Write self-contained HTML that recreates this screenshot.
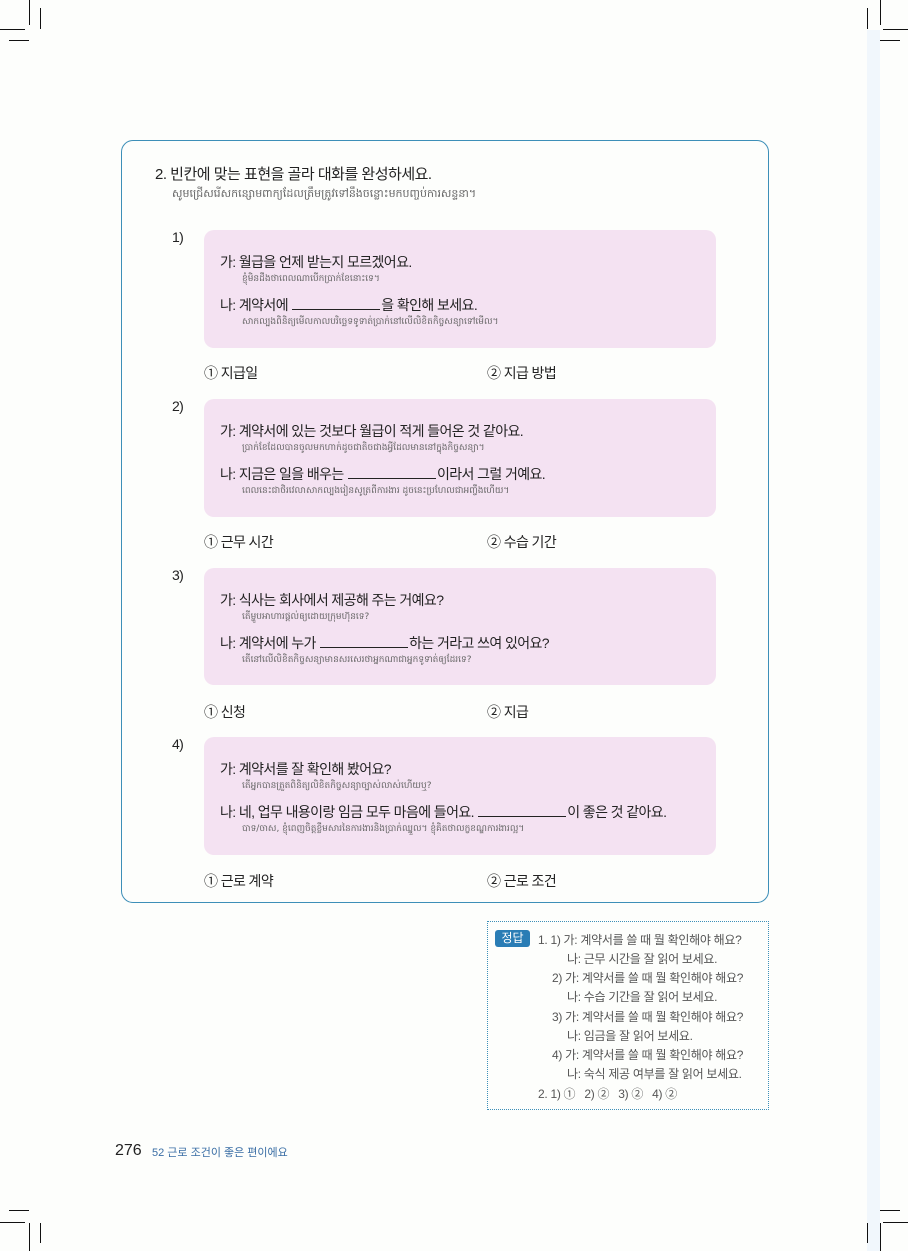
<!DOCTYPE html>
<html><head><meta charset="utf-8"><style>
*{margin:0;padding:0;box-sizing:border-box}
body{width:908px;height:1251px;background:#fdfefc;position:relative;overflow:hidden;font-family:"Liberation Sans","Noto Sans CJK KR",sans-serif;color:#222}
.a{position:absolute}
.l{position:absolute;background:#111}
.box{position:absolute;left:121px;top:140px;width:648px;height:763px;border:1.3px solid #3d8fb8;border-radius:12px}
.pk{position:absolute;left:204px;width:512px;background:#f4e2f2;border-radius:10px}
.k{font-size:14px;color:#222;white-space:nowrap;letter-spacing:-0.6px}
.km{font-size:9px;color:#666;white-space:nowrap;font-family:"DejaVu Sans",sans-serif}
.bl{display:inline-block;width:88px;border-bottom:1px solid #222;height:12px;vertical-align:baseline;margin:0 1px}
.ans{position:absolute;left:487px;top:921px;width:282px;height:189px;border:1px dotted #3d8fb8}
.ar{font-size:12px;color:#555;white-space:nowrap;position:absolute;letter-spacing:-0.3px}
</style></head><body>
<div class="a" style="left:867px;top:30px;width:13px;height:1221px;background:#f1f7fc"></div>
<div class="l" style="left:29px;top:0;width:1px;height:25px"></div>
<div class="l" style="left:40px;top:8px;width:1px;height:21px"></div>
<div class="l" style="left:0;top:29px;width:25px;height:1px"></div>
<div class="l" style="left:9px;top:40px;width:20px;height:1px"></div>
<div class="l" style="left:880px;top:0;width:1px;height:25px"></div>
<div class="l" style="left:867px;top:8px;width:1px;height:21px"></div>
<div class="l" style="left:883px;top:29px;width:25px;height:1px"></div>
<div class="l" style="left:880px;top:40px;width:20px;height:1px"></div>
<div class="l" style="left:29px;top:1223px;width:1px;height:28px"></div>
<div class="l" style="left:40px;top:1223px;width:1px;height:20px"></div>
<div class="l" style="left:0;top:1222px;width:25px;height:1px"></div>
<div class="l" style="left:9px;top:1210px;width:20px;height:1px"></div>
<div class="l" style="left:880px;top:1223px;width:1px;height:28px"></div>
<div class="l" style="left:867px;top:1223px;width:1px;height:20px"></div>
<div class="l" style="left:883px;top:1222px;width:25px;height:1px"></div>
<div class="l" style="left:880px;top:1210px;width:20px;height:1px"></div>

<div class="box"></div>
<div class="a" style="left:155px;top:163px;font-size:15px;white-space:nowrap;letter-spacing:-0.5px">2. 빈칸에 맞는 표현을 골라 대화를 완성하세요.</div>
<div class="a km" style="left:172px;top:187px;font-size:11px">សូមជ្រើសរើសកន្សោមពាក្យដែលត្រឹមត្រូវទៅនឹងចន្លោះមកបញ្ចប់ការសន្ទនា។</div>

<div class="a k" style="left:172px;top:229px">1)</div>
<div class="pk" style="top:230px;height:118px"></div>
<div class="a k" style="left:220px;top:252px">가: 월급을 언제 받는지 모르겠어요.</div>
<div class="a km" style="left:242px;top:273px">ខ្ញុំមិនដឹងថាពេលណាបើកប្រាក់ខែនោះទេ។</div>
<div class="a k" style="left:220px;top:295px">나: 계약서에 <span class="bl"></span>을 확인해 보세요.</div>
<div class="a km" style="left:242px;top:316px">សាកល្បងពិនិត្យមើលកាលបរិច្ឆេទទូទាត់ប្រាក់នៅលើលិខិតកិច្ចសន្យាទៅមើល។</div>
<div class="a k" style="left:204px;top:363px">① 지급일</div>
<div class="a k" style="left:487px;top:363px">② 지급 방법</div>

<div class="a k" style="left:172px;top:398px">2)</div>
<div class="pk" style="top:399px;height:118px"></div>
<div class="a k" style="left:220px;top:421px">가: 계약서에 있는 것보다 월급이 적게 들어온 것 같아요.</div>
<div class="a km" style="left:242px;top:442px">ប្រាក់ខែដែលបានចូលមកហាក់ដូចជាតិចជាងអ្វីដែលមាននៅក្នុងកិច្ចសន្យា។</div>
<div class="a k" style="left:220px;top:464px">나: 지금은 일을 배우는 <span class="bl"></span>이라서 그럴 거예요.</div>
<div class="a km" style="left:242px;top:485px">ពេលនេះជាថិរវេលាសាកល្បងរៀនសូត្រពីការងារ ដូចនេះប្រហែលជាអញ្ចឹងហើយ។</div>
<div class="a k" style="left:204px;top:532px">① 근무 시간</div>
<div class="a k" style="left:487px;top:532px">② 수습 기간</div>

<div class="a k" style="left:172px;top:567px">3)</div>
<div class="pk" style="top:568px;height:117px"></div>
<div class="a k" style="left:220px;top:590px">가: 식사는 회사에서 제공해 주는 거예요?</div>
<div class="a km" style="left:242px;top:611px">តើម្ហូបអាហារផ្តល់ឲ្យដោយក្រុមហ៊ុនទេ?</div>
<div class="a k" style="left:220px;top:633px">나: 계약서에 누가 <span class="bl"></span>하는 거라고 쓰여 있어요?</div>
<div class="a km" style="left:242px;top:654px">តើនៅលើលិខិតកិច្ចសន្យាមានសរសេរថាអ្នកណាជាអ្នកទូទាត់ឲ្យដែរទេ?</div>
<div class="a k" style="left:204px;top:702px">① 신청</div>
<div class="a k" style="left:487px;top:702px">② 지급</div>

<div class="a k" style="left:172px;top:736px">4)</div>
<div class="pk" style="top:737px;height:118px"></div>
<div class="a k" style="left:220px;top:759px">가: 계약서를 잘 확인해 봤어요?</div>
<div class="a km" style="left:242px;top:780px">តើអ្នកបានត្រួតពិនិត្យលិខិតកិច្ចសន្យាច្បាស់លាស់ហើយឬ?</div>
<div class="a k" style="left:220px;top:802px">나: 네, 업무 내용이랑 임금 모두 마음에 들어요. <span class="bl"></span>이 좋은 것 같아요.</div>
<div class="a km" style="left:242px;top:823px">បាទ/ចាស, ខ្ញុំពេញចិត្តខ្លឹមសារនៃការងារនិងប្រាក់ឈ្នួល។ ខ្ញុំគិតថាលក្ខខណ្ឌការងារល្អ។</div>
<div class="a k" style="left:204px;top:871px">① 근로 계약</div>
<div class="a k" style="left:487px;top:871px">② 근로 조건</div>

<div class="ans"></div>
<div class="a" style="left:495px;top:930px;width:35px;height:17px;background:#2a7db5;border-radius:3px;color:#fff;font-size:12px;text-align:center;line-height:17px">정답</div>
<div class="ar" style="left:538px;top:931px">1. 1) 가: 계약서를 쓸 때 뭘 확인해야 해요?</div>
<div class="ar" style="left:567px;top:950px">나: 근무 시간을 잘 읽어 보세요.</div>
<div class="ar" style="left:552px;top:969px">2) 가: 계약서를 쓸 때 뭘 확인해야 해요?</div>
<div class="ar" style="left:567px;top:988px">나: 수습 기간을 잘 읽어 보세요.</div>
<div class="ar" style="left:552px;top:1008px">3) 가: 계약서를 쓸 때 뭘 확인해야 해요?</div>
<div class="ar" style="left:567px;top:1027px">나: 임금을 잘 읽어 보세요.</div>
<div class="ar" style="left:552px;top:1046px">4) 가: 계약서를 쓸 때 뭘 확인해야 해요?</div>
<div class="ar" style="left:567px;top:1065px">나: 숙식 제공 여부를 잘 읽어 보세요.</div>
<div class="ar" style="left:538px;top:1085px">2. 1) ①&nbsp;&nbsp; 2) ②&nbsp;&nbsp; 3) ②&nbsp;&nbsp; 4) ②</div>

<div class="a" style="left:115px;top:1142px;font-size:16px;color:#222">276</div>
<div class="a" style="left:152px;top:1144px;font-size:11px;color:#3a6ea5;white-space:nowrap">52 근로 조건이 좋은 편이에요</div>
</body></html>
